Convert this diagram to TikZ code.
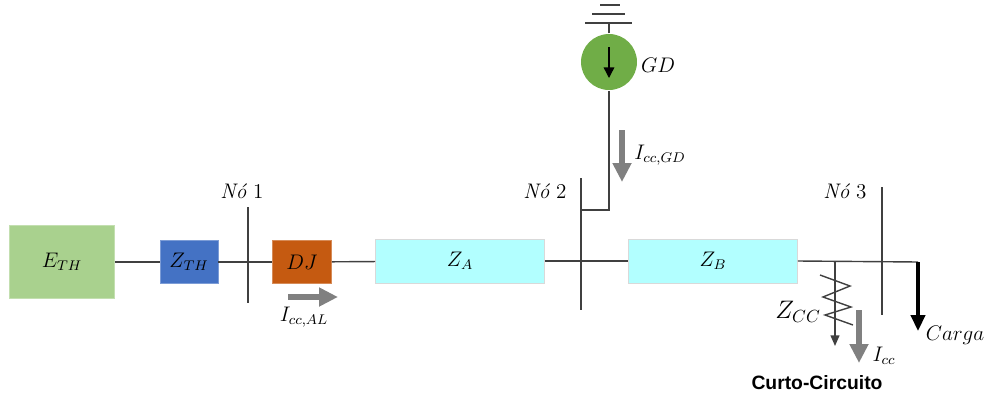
\documentclass[tikz,border=0pt]{standalone}
\usepackage{fontspec}
\newfontfamily\boldsans{Liberation Sans}
\usetikzlibrary{positioning, arrows.meta}

\definecolor{ethgreen}{RGB}{169,209,142}
\definecolor{zthblue}{RGB}{68,114,196}
\definecolor{djorange}{RGB}{197,90,17}
\definecolor{zcyan}{RGB}{178,255,255}
\definecolor{gdgreen}{RGB}{112,173,71}
\definecolor{wire}{RGB}{64,64,64}
\definecolor{flow}{RGB}{128,128,128}

\begin{document}
\begin{tikzpicture}
	[x=0.02cm, y=-0.02cm, line width=0.8pt, font=\large,
	 block/.style={rectangle, inner sep=0pt, line width=0.4pt},
	 bus/.style={line width=1pt, draw=wire},
	 wire/.style={line width=0.8pt, draw=wire},
	 current/.style={draw=flow, line width=3pt, -{Triangle[length=0.38cm, width=0.36cm]}}]
   \useasboundingbox (0,0) rectangle (988,396);
   % blocks on the main line
   \node[block, fill=ethgreen, draw=ethgreen!70!white, minimum width=2.1cm, minimum height=1.46cm] (e_th) at (62,262) {$E_{TH}$};
   \node[block, fill=zthblue, draw=zthblue!70!white, minimum width=1.16cm, minimum height=0.86cm] (z_th) at (189,262) {$Z_{TH}$};
   \node[block, fill=djorange, draw=djorange!70!white, minimum width=1.18cm, minimum height=0.86cm] (dj) at (302,262) {$DJ$};
   \node[block, fill=zcyan, draw=black!15, minimum width=3.38cm, minimum height=0.88cm] (z_a) at (460,261) {$Z_A$};
   \node[block, fill=zcyan, draw=black!15, minimum width=3.38cm, minimum height=0.88cm] (z_b) at (713,261) {$Z_B$};
   \node[circle, fill=gdgreen, inner sep=0pt, minimum size=1.12cm] (gd) at (609,62) {};
   % bus bars
   \coordinate (no_1a) at (248,207); \coordinate (no_1b) at (248,303);
   \coordinate (no_2a) at (581,178); \coordinate (no_2b) at (581,310);
   \coordinate (no_3a) at (882,187); \coordinate (no_3b) at (882,315);
   \draw[bus] (no_1a) -- (no_1b);
   \draw[bus] (no_2a) -- (no_2b);
   \draw[bus] (no_3a) -- (no_3b);
   \node (lbl_1) at (242,191) {{\itshape Nó} 1};
   \node (lbl_2) at (545,191) {{\itshape Nó} 2};
   \node (lbl_3) at (845,191) {{\itshape Nó} 3};
   % main line
   \coordinate (load_top) at (918,262);
   \draw[wire] (e_th) -- (z_th);
   \draw[wire] (z_th) -- (dj);
   \draw[wire] (dj) -- (z_a);
   \draw[wire] (z_a) -- (z_b);
   \draw[wire] (z_b.east) -- (load_top);
   % generator branch
   \coordinate (gd_tap) at (581,210);
   \coordinate (gnd) at (609,23);
   \draw[wire] (gd_tap) -| (gd.south);
   \draw[wire] (gd.north) -- (gnd);
   \draw[wire] (585,23) -- (632,23);
   \draw[wire] (592,14) -- (625,14);
   \draw[wire] (600,5) -- (620,5);
   \coordinate (gd_in1) at (609,47); \coordinate (gd_in2) at (609,78);
   \draw[line width=0.8pt, -{Triangle[length=6pt, width=6pt]}] (gd_in1) -- (gd_in2);
   \node (lbl_gd) at (658,65) {$GD$};
   % currents
   \coordinate (al_a) at (288,297); \coordinate (al_b) at (338,297);
   \draw[current] (al_a) -- (al_b);
   \node (lbl_al) at (304,317) {$I_{cc,AL}$};
   \coordinate (cgd_a) at (622,130); \coordinate (cgd_b) at (622,182);
   \draw[current] (cgd_a) -- (cgd_b);
   \node (lbl_cgd) at (660,155) {$I_{cc,GD}$};
   \coordinate (cc_a) at (859,310); \coordinate (cc_b) at (859,363);
   \draw[current] (cc_a) -- (cc_b);
   \node (lbl_cc) at (884,356) {$I_{cc}$};
   % short circuit
   \coordinate (zcc_top) at (835,262); \coordinate (zcc_end) at (835,346);
   \draw[wire, -{Triangle[length=6pt, width=5pt]}] (zcc_top) -- (zcc_end);
   \draw[wire] (820,275) -- (850,286) -- (823,297) -- (851,307) -- (825,315) -- (853,325);
   \node (lbl_zcc) at (798,312) {\Large$Z_{CC}$};
   \node (lbl_sc) at (817,383) {\boldsans\bfseries\fontsize{11}{13}\selectfont Curto-Circuito};
   % load
   \coordinate (load_end) at (918,331);
   \draw[line width=2pt, -{Triangle[length=9pt, width=8pt]}] (load_top) -- (load_end);
   \node (lbl_load) at (955,335) {$Carga$};
\end{tikzpicture}
\end{document}
